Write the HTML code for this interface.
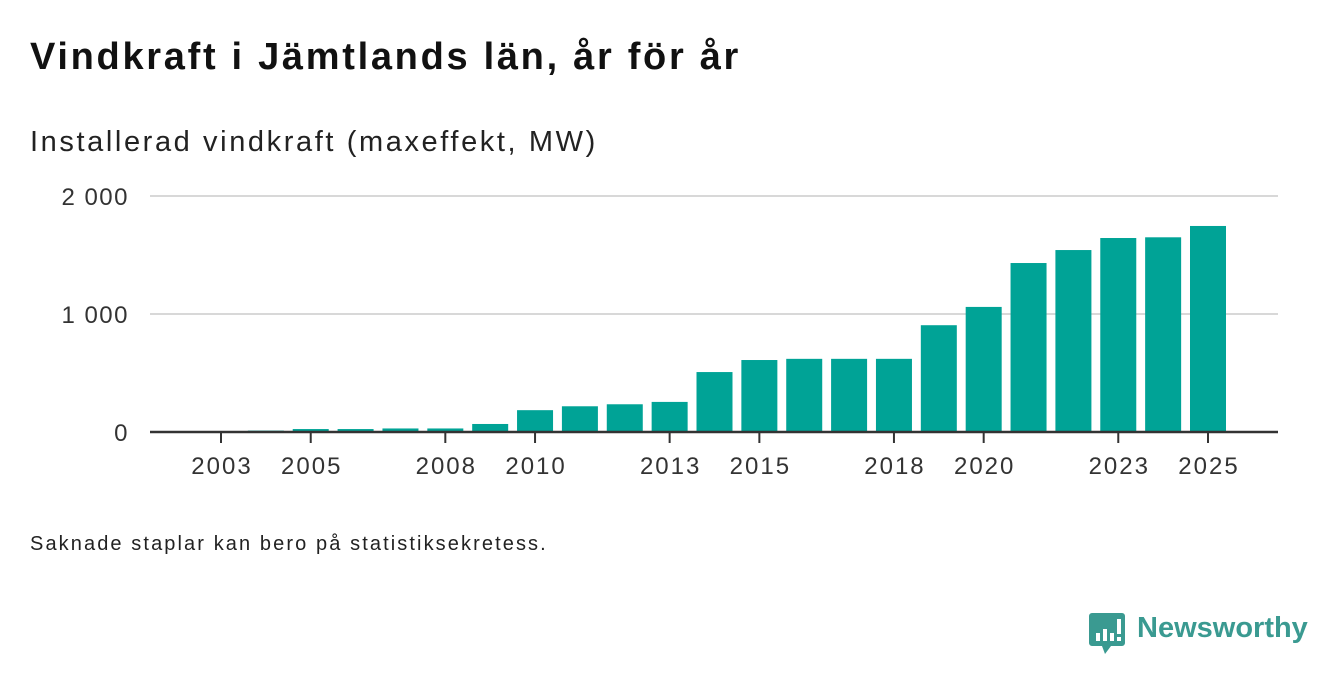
<!DOCTYPE html>
<html><head><meta charset="utf-8"><style>
body{margin:0;width:1340px;height:685px;background:#fff;font-family:"Liberation Sans",sans-serif;overflow:hidden;position:relative}
.t{position:absolute;left:30px;top:36px;font-size:38px;font-weight:bold;color:#111;letter-spacing:2.7px;white-space:nowrap}
.s{position:absolute;left:30px;top:126px;font-size:29px;color:#222;letter-spacing:2.6px;white-space:nowrap}
.n{position:absolute;left:30px;top:533px;font-size:20px;color:#222;letter-spacing:2.1px;white-space:nowrap}
.logo{position:absolute;left:1089px;top:613px}
.lt{position:absolute;left:1137px;top:612px;font-size:29px;font-weight:bold;color:#3a9a91}
</style></head><body>
<div class="t">Vindkraft i Jämtlands län, år för år</div>
<div class="s">Installerad vindkraft (maxeffekt, MW)</div>
<svg id="chart" width="1340" height="685" style="position:absolute;left:0;top:0"></svg>
<div class="n">Saknade staplar kan bero på statistiksekretess.</div>
<svg class="logo" width="36" height="42"><path d="M3 0h30a3 3 0 0 1 3 3v27a3 3 0 0 1-3 3H22l-6 8-3-8H3a3 3 0 0 1-3-3V3a3 3 0 0 1 3-3z" fill="#3a9a91"/><rect x="7" y="20" width="4" height="8" fill="#fff"/><rect x="14" y="16" width="4" height="12" fill="#fff"/><rect x="21" y="20" width="4" height="8" fill="#fff"/><rect x="28" y="6" width="4" height="15" fill="#fff"/><rect x="28" y="24" width="4" height="4" fill="#fff"/></svg>
<div class="lt">Newsworthy</div>
<script>
const years=[2003,2004,2005,2006,2007,2008,2009,2010,2011,2012,2013,2014,2015,2016,2017,2018,2019,2020,2021,2022,2023,2024,2025];
const values=[0,12,25,25,30,30,68,185,218,235,255,508,610,620,620,620,905,1060,1432,1542,1644,1650,1746];
const yTicks=[0,1000,2000];
const yTickLabels=["0","1 000","2 000"];
const xTickYears=[2003,2005,2008,2010,2013,2015,2018,2020,2023,2025];
const NS="http://www.w3.org/2000/svg";
const svg=document.getElementById('chart');
const x0=221,step=(1208-221)/22,bw=36;
const xs=y=>x0+(y-years[0])*step;
const ys=v=>432-v*0.118;
function el(t,a){const e=document.createElementNS(NS,t);for(const k in a)e.setAttribute(k,a[k]);svg.appendChild(e);return e;}
yTicks.forEach((v,i)=>{
 if(v>0){const g=el('line',{x1:150,x2:1278,y1:ys(v),y2:ys(v),stroke:'#d8d8d8','stroke-width':2});
 
 }
 const t=el('text',{x:129,y:ys(v)+9,'text-anchor':'end','font-size':24,fill:'#333','letter-spacing':1.5,'font-family':'Liberation Sans, sans-serif'});
 t.textContent=yTickLabels[i];
 
 
});
years.forEach((y,i)=>{
 if(values[i]<=0)return;
 const r=el('rect',{x:xs(y)-bw/2,y:ys(values[i]),width:bw,height:432-ys(values[i]),fill:'#00a396'});
 
 
});
const ax=el('line',{x1:150,x2:1278,y1:432,y2:432,stroke:'#333','stroke-width':2.5});


xTickYears.forEach(y=>{
 const l=el('line',{x1:xs(y),x2:xs(y),y1:432,y2:443,stroke:'#333','stroke-width':2});
 
 
 const t=el('text',{x:xs(y)+1,y:474,'text-anchor':'middle','font-size':24,fill:'#333','letter-spacing':2,'font-family':'Liberation Sans, sans-serif'});
 t.textContent=y;
 
 
});
</script>
</body></html>
